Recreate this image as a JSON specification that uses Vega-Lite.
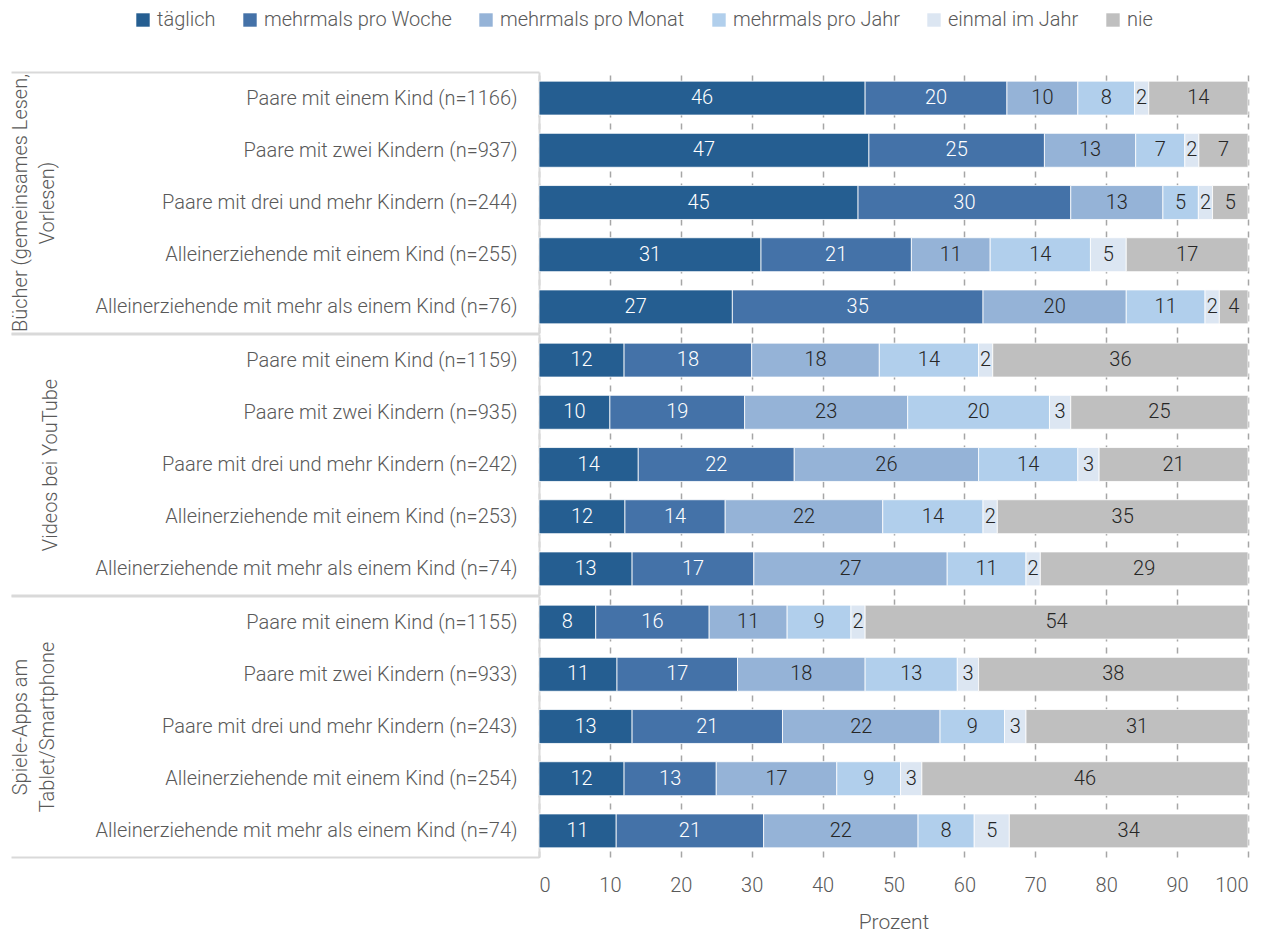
{
  "$schema": "https://vega.github.io/schema/vega-lite/v6.json",
  "padding": {"left": 10, "top": 10, "right": 20, "bottom": 1},
  "background": "white",
  "spacing": -11,
  "config": {
    "font": "Roboto",
    "view": {"stroke": null},
    "axisX": {"grid": true, "gridColor": "#a6a6a6", "gridDash": [6, 6], "gridWidth": 1.5, "domain": false, "ticks": false, "labelFontSize": 20, "labelFontWeight": 300, "labelColor": "#595959", "titleFontSize": 21, "titleColor": "#595959", "titleFontWeight": 300},
    "axisY": {"grid": false, "labelFontSize": 20, "labelFontWeight": 300, "labelColor": "#595959", "labelLimit": 600, "titleFontSize": 20, "titleColor": "#595959", "titleFontWeight": 300}
  },
  "data": {"values": [
    {"g": "B", "c": "Paare mit einem Kind (n=1166)", "täglich": 46, "mehrmals pro Woche": 20, "mehrmals pro Monat": 10, "mehrmals pro Jahr": 8, "einmal im Jahr": 2, "nie": 14},
    {"g": "B", "c": "Paare mit zwei Kindern (n=937)", "täglich": 47, "mehrmals pro Woche": 25, "mehrmals pro Monat": 13, "mehrmals pro Jahr": 7, "einmal im Jahr": 2, "nie": 7},
    {"g": "B", "c": "Paare mit drei und mehr Kindern (n=244)", "täglich": 45, "mehrmals pro Woche": 30, "mehrmals pro Monat": 13, "mehrmals pro Jahr": 5, "einmal im Jahr": 2, "nie": 5},
    {"g": "B", "c": "Alleinerziehende mit einem Kind (n=255)", "täglich": 31, "mehrmals pro Woche": 21, "mehrmals pro Monat": 11, "mehrmals pro Jahr": 14, "einmal im Jahr": 5, "nie": 17},
    {"g": "B", "c": "Alleinerziehende mit mehr als einem Kind (n=76)", "täglich": 27, "mehrmals pro Woche": 35, "mehrmals pro Monat": 20, "mehrmals pro Jahr": 11, "einmal im Jahr": 2, "nie": 4},
    {"g": "V", "c": "Paare mit einem Kind (n=1159)", "täglich": 12, "mehrmals pro Woche": 18, "mehrmals pro Monat": 18, "mehrmals pro Jahr": 14, "einmal im Jahr": 2, "nie": 36},
    {"g": "V", "c": "Paare mit zwei Kindern (n=935)", "täglich": 10, "mehrmals pro Woche": 19, "mehrmals pro Monat": 23, "mehrmals pro Jahr": 20, "einmal im Jahr": 3, "nie": 25},
    {"g": "V", "c": "Paare mit drei und mehr Kindern (n=242)", "täglich": 14, "mehrmals pro Woche": 22, "mehrmals pro Monat": 26, "mehrmals pro Jahr": 14, "einmal im Jahr": 3, "nie": 21},
    {"g": "V", "c": "Alleinerziehende mit einem Kind (n=253)", "täglich": 12, "mehrmals pro Woche": 14, "mehrmals pro Monat": 22, "mehrmals pro Jahr": 14, "einmal im Jahr": 2, "nie": 35},
    {"g": "V", "c": "Alleinerziehende mit mehr als einem Kind (n=74)", "täglich": 13, "mehrmals pro Woche": 17, "mehrmals pro Monat": 27, "mehrmals pro Jahr": 11, "einmal im Jahr": 2, "nie": 29},
    {"g": "S", "c": "Paare mit einem Kind (n=1155)", "täglich": 8, "mehrmals pro Woche": 16, "mehrmals pro Monat": 11, "mehrmals pro Jahr": 9, "einmal im Jahr": 2, "nie": 54},
    {"g": "S", "c": "Paare mit zwei Kindern (n=933)", "täglich": 11, "mehrmals pro Woche": 17, "mehrmals pro Monat": 18, "mehrmals pro Jahr": 13, "einmal im Jahr": 3, "nie": 38},
    {"g": "S", "c": "Paare mit drei und mehr Kindern (n=243)", "täglich": 13, "mehrmals pro Woche": 21, "mehrmals pro Monat": 22, "mehrmals pro Jahr": 9, "einmal im Jahr": 3, "nie": 31},
    {"g": "S", "c": "Alleinerziehende mit einem Kind (n=254)", "täglich": 12, "mehrmals pro Woche": 13, "mehrmals pro Monat": 17, "mehrmals pro Jahr": 9, "einmal im Jahr": 3, "nie": 46},
    {"g": "S", "c": "Alleinerziehende mit mehr als einem Kind (n=74)", "täglich": 11, "mehrmals pro Woche": 21, "mehrmals pro Monat": 22, "mehrmals pro Jahr": 8, "einmal im Jahr": 5, "nie": 34}
  ]},
  "transform": [
    {"fold": ["täglich", "mehrmals pro Woche", "mehrmals pro Monat", "mehrmals pro Jahr", "einmal im Jahr", "nie"], "as": ["r", "v"]},
    {"calculate": "indexof(['täglich','mehrmals pro Woche','mehrmals pro Monat','mehrmals pro Jahr','einmal im Jahr','nie'], datum.r)", "as": "k"}
  ],
  "resolve": {"scale": {"color": "shared", "x": "shared", "y": "independent"}},
  "vconcat": [
    {
      "width": 709, "height": 261,
      "transform": [{"filter": "datum.g === 'B'"}],
      "encoding": {
        "y": {"field": "c", "type": "nominal", "sort": null, "scale": {"paddingInner": 0, "paddingOuter": 0},
          "axis": {"title": ["Bücher (gemeinsames Lesen,", "Vorlesen)"], "titleAngle": 270, "titleX": -509, "titleY": 130.5, "titleAlign": "center", "titleBaseline": "bottom", "titleLineHeight": 27,
            "tickBand": "extent", "tickSize": 528, "tickColor": "#d9d9d9", "tickWidth": 2, "tickOpacity": {"condition": {"test": "!datum.value || indexof(datum.value, 'mehr als') >= 0", "value": 1}, "value": 0},
            "domainColor": "#d9d9d9", "domainWidth": 2, "labelPadding": -506}}
      },
      "layer": [
        {"mark": {"type": "bar", "stroke": "white", "strokeWidth": 0.8, "height": {"band": 0.65}},
          "encoding": {
            "x": {"field": "v", "type": "quantitative", "stack": "normalize", "scale": {"domain": [0, 1]}, "axis": {"labels": false, "title": null, "minExtent": 0, "maxExtent": 0, "values": [0, 0.1, 0.2, 0.3, 0.4, 0.5, 0.6, 0.7, 0.8, 0.9, 1]}},
            "color": {"field": "r", "type": "nominal", "scale": {"domain": ["täglich", "mehrmals pro Woche", "mehrmals pro Monat", "mehrmals pro Jahr", "einmal im Jahr", "nie"], "range": ["#255E91", "#4472A8", "#95B3D7", "#B1CFEC", "#DCE6F2", "#BFBFBF"]},
              "legend": {"orient": "none", "legendX": -406, "legendY": -62, "direction": "horizontal", "title": null, "symbolType": "square", "symbolSize": 180, "symbolStrokeWidth": 0, "labelFontSize": 20, "labelFontWeight": 300, "labelColor": "#595959", "columnPadding": 24, "labelLimit": 300}},
            "order": {"field": "k"}
          }},
        {"mark": {"type": "text", "fontSize": 20, "fontWeight": 300},
          "encoding": {
            "x": {"field": "v", "type": "quantitative", "stack": "normalize", "bandPosition": 0.5},
            "detail": {"field": "k", "type": "nominal"},
            "order": {"field": "k"},
            "text": {"field": "v"},
            "color": {"condition": {"test": "datum.k < 2", "value": "white"}, "value": "#262626"}
          }}
      ]
    },
    {
      "width": 709, "height": 261,
      "transform": [{"filter": "datum.g === 'V'"}],
      "encoding": {
        "y": {"field": "c", "type": "nominal", "sort": null, "scale": {"paddingInner": 0, "paddingOuter": 0},
          "axis": {"title": "Videos bei YouTube", "titleAngle": 270, "titleX": -479, "titleY": 130.5, "titleAlign": "center", "titleBaseline": "bottom", "titleLineHeight": 27,
            "tickBand": "extent", "tickSize": 528, "tickColor": "#d9d9d9", "tickWidth": 2, "tickOpacity": {"condition": {"test": "!datum.value || indexof(datum.value, 'mehr als') >= 0", "value": 1}, "value": 0},
            "domainColor": "#d9d9d9", "domainWidth": 2, "labelPadding": -506}}
      },
      "layer": [
        {"mark": {"type": "bar", "stroke": "white", "strokeWidth": 0.8, "height": {"band": 0.65}},
          "encoding": {
            "x": {"field": "v", "type": "quantitative", "stack": "normalize", "scale": {"domain": [0, 1]}, "axis": {"labels": false, "title": null, "minExtent": 0, "maxExtent": 0, "values": [0, 0.1, 0.2, 0.3, 0.4, 0.5, 0.6, 0.7, 0.8, 0.9, 1]}},
            "color": {"field": "r", "type": "nominal"},
            "order": {"field": "k"}
          }},
        {"mark": {"type": "text", "fontSize": 20, "fontWeight": 300},
          "encoding": {
            "x": {"field": "v", "type": "quantitative", "stack": "normalize", "bandPosition": 0.5},
            "detail": {"field": "k", "type": "nominal"},
            "order": {"field": "k"},
            "text": {"field": "v"},
            "color": {"condition": {"test": "datum.k < 2", "value": "white"}, "value": "#262626"}
          }}
      ]
    },
    {
      "width": 709, "height": 261,
      "transform": [{"filter": "datum.g === 'S'"}],
      "encoding": {
        "y": {"field": "c", "type": "nominal", "sort": null, "scale": {"paddingInner": 0, "paddingOuter": 0},
          "axis": {"title": ["Spiele-Apps am", "Tablet/Smartphone"], "titleAngle": 270, "titleX": -509, "titleY": 130.5, "titleAlign": "center", "titleBaseline": "bottom", "titleLineHeight": 27,
            "tickBand": "extent", "tickSize": 528, "tickColor": "#d9d9d9", "tickWidth": 2, "tickOpacity": {"condition": {"test": "!datum.value || indexof(datum.value, 'mehr als') >= 0", "value": 1}, "value": 0},
            "domainColor": "#d9d9d9", "domainWidth": 2, "labelPadding": -506}}
      },
      "layer": [
        {"mark": {"type": "bar", "stroke": "white", "strokeWidth": 0.8, "height": {"band": 0.65}},
          "encoding": {
            "x": {"field": "v", "type": "quantitative", "stack": "normalize", "scale": {"domain": [0, 1]}, "axis": {"title": "Prozent", "titlePadding": 16, "labelPadding": 18, "values": [0, 0.1, 0.2, 0.3, 0.4, 0.5, 0.6, 0.7, 0.8, 0.9, 1], "labelExpr": "round(datum.value * 100)"}},
            "color": {"field": "r", "type": "nominal"},
            "order": {"field": "k"}
          }},
        {"mark": {"type": "text", "fontSize": 20, "fontWeight": 300},
          "encoding": {
            "x": {"field": "v", "type": "quantitative", "stack": "normalize", "bandPosition": 0.5},
            "detail": {"field": "k", "type": "nominal"},
            "order": {"field": "k"},
            "text": {"field": "v"},
            "color": {"condition": {"test": "datum.k < 2", "value": "white"}, "value": "#262626"}
          }}
      ]
    }
  ]
}
